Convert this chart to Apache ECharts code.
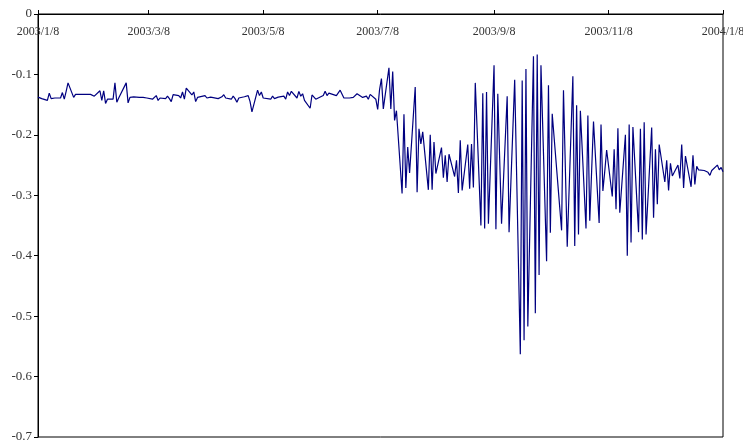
<!DOCTYPE html>
<html><head><meta charset="utf-8">
<script src="https://cdn.jsdelivr.net/npm/echarts@6/dist/echarts.min.js"></script>
<style>html,body{margin:0;padding:0;background:#fff}#c{width:743px;height:445px}</style>
</head><body><div id="c"></div>
<script>
// x tick labels (dates)
const tickLabels = ['2003/1/8','2003/3/8','2003/5/8','2003/7/8','2003/9/8','2003/11/8','2004/1/8'];
const startDate = '2003/1/8';
const endDate = '2004/1/8';

// values for each weekday, month by month
const jan03 = [-0.1375,-0.139,-0.140, -0.143,-0.131,-0.140,-0.139,-0.139, -0.139,-0.130,-0.141,-0.128,-0.114, -0.138,-0.133,-0.133,-0.133,-0.133];
const feb03 = [-0.133,-0.133,-0.133,-0.133,-0.136, -0.127,-0.143,-0.127,-0.148,-0.141, -0.141,-0.114,-0.146,-0.139,-0.138, -0.114,-0.147,-0.138,-0.135,-0.137];
const mar03 = [-0.138,-0.139,-0.138,-0.139,-0.139, -0.141,-0.138,-0.135,-0.143,-0.139, -0.140,-0.136,-0.140,-0.145,-0.1335, -0.135,-0.139,-0.129,-0.141,-0.1226, -0.134];
const apr03 = [-0.129,-0.145,-0.138,-0.140, -0.135,-0.139,-0.138,-0.1375,-0.139, -0.140,-0.141,-0.137,-0.1335,-0.139, -0.141,-0.136,-0.140,-0.146,-0.139, -0.137,-0.136,-0.135];
const may03 = [-0.145,-0.162, -0.126,-0.135,-0.129,-0.139,-0.140, -0.141,-0.136,-0.140,-0.138,-0.1375, -0.136,-0.141,-0.129,-0.135,-0.128, -0.139,-0.128,-0.136,-0.132,-0.143];
const jun03 = [-0.156,-0.134,-0.136,-0.141,-0.139, -0.135,-0.128,-0.135,-0.131,-0.134, -0.135,-0.132,-0.126,-0.129,-0.139, -0.139,-0.140,-0.138,-0.141,-0.132, -0.138];
const jul03 = [-0.139,-0.136,-0.141,-0.133, -0.141,-0.158,-0.125,-0.107,-0.157, -0.089,-0.157,-0.095,-0.176,-0.160, -0.297,-0.166,-0.288,-0.220,-0.263, -0.121,-0.295,-0.190,-0.215];
const aug03 = [-0.195, -0.291,-0.200,-0.291,-0.212,-0.264, -0.221,-0.271,-0.234,-0.278,-0.232, -0.269,-0.242,-0.296,-0.209,-0.292, -0.216,-0.289,-0.215,-0.287,-0.114];
const sep03 = [-0.350,-0.131,-0.355,-0.129,-0.347, -0.085,-0.356,-0.132,-0.240,-0.347, -0.136,-0.361,-0.277,-0.193,-0.109, -0.563,-0.110,-0.540,-0.091,-0.517, -0.070,-0.495];
const oct03 = [-0.067,-0.432,-0.085, -0.409,-0.118,-0.362,-0.165,-0.204, -0.320,-0.358,-0.126,-0.255,-0.385, -0.103,-0.384,-0.151,-0.365,-0.160, -0.355,-0.168,-0.342,-0.260,-0.178];
const nov03 = [-0.346,-0.183,-0.293,-0.260,-0.225, -0.302,-0.224,-0.323,-0.189,-0.329, -0.200,-0.400,-0.183,-0.378,-0.187, -0.361,-0.190,-0.373,-0.179,-0.365];
const dec03 = [-0.188,-0.337,-0.224,-0.315,-0.216, -0.278,-0.242,-0.292,-0.247,-0.268, -0.250,-0.272,-0.216,-0.288,-0.235, -0.286,-0.234,-0.282,-0.252,-0.258, -0.259,-0.256,-0.262];
const jan04 = [-0.267,-0.259, -0.250,-0.258,-0.254,-0.261];

const values = [].concat(jan03, feb03, mar03, apr03, may03, jun03, jul03, aug03, sep03, oct03, nov03, dec03, jan04);

function parseDate(s) { const p = s.split('/').map(Number); return new Date(p[0], p[1]-1, p[2]); }
const t0 = parseDate(startDate), t1 = parseDate(endDate);
const dates = [];
for (let d = new Date(t0); d <= t1; d.setDate(d.getDate() + 1)) {
  const w = d.getDay();
  if (w !== 0 && w !== 6) dates.push(d.getTime());
}
const seriesData = dates.map((t, i) => [t, values[i]]);
const tickValues = tickLabels.map(s => parseDate(s).getTime());

const font = '"Liberation Serif", "DejaVu Serif", serif';
const chart = echarts.init(document.getElementById('c'), null, {renderer: 'canvas'});
chart.setOption({
  animation: false,
  backgroundColor: '#fff',
  grid: { left: 38, top: 14, right: 20, bottom: 8, containLabel: false, outerBoundsMode: 'none',
          show: true, borderColor: '#000', borderWidth: 1, backgroundColor: 'transparent' },
  xAxis: {
    type: 'value', position: 'top',
    min: t0.getTime(), max: t1.getTime(),
    axisLine: { show: true, onZero: false, lineStyle: { color: '#000', width: 1 } },
    axisTick: { show: true, inside: false, length: 4, lineStyle: { color: '#000' }, customValues: tickValues },
    axisLabel: {
      inside: true, margin: 12, color: '#333', fontFamily: font, fontSize: 12,
      customValues: tickValues, hideOverlap: false, showMinLabel: true, showMaxLabel: true,
      formatter: function (v) { const d = new Date(v); return d.getFullYear() + '/' + (d.getMonth()+1) + '/' + d.getDate(); }
    },
    splitLine: { show: false }
  },
  yAxis: {
    type: 'value', min: -0.7, max: 0, interval: 0.1,
    axisLine: { show: true, onZero: false, lineStyle: { color: '#000', width: 1 } },
    axisTick: { show: true, length: 4, lineStyle: { color: '#000' } },
    axisLabel: { margin: 6, color: '#333', fontFamily: font, fontSize: 13,
      formatter: function (v) { return Math.abs(v) < 1e-9 ? '0' : v.toFixed(1); } },
    splitLine: { show: false }
  },
  series: [{
    type: 'line', data: seriesData, showSymbol: false, symbol: 'none',
    lineStyle: { color: '#000080', width: 1.2 }, z: 3
  }]
});
</script></body></html>
